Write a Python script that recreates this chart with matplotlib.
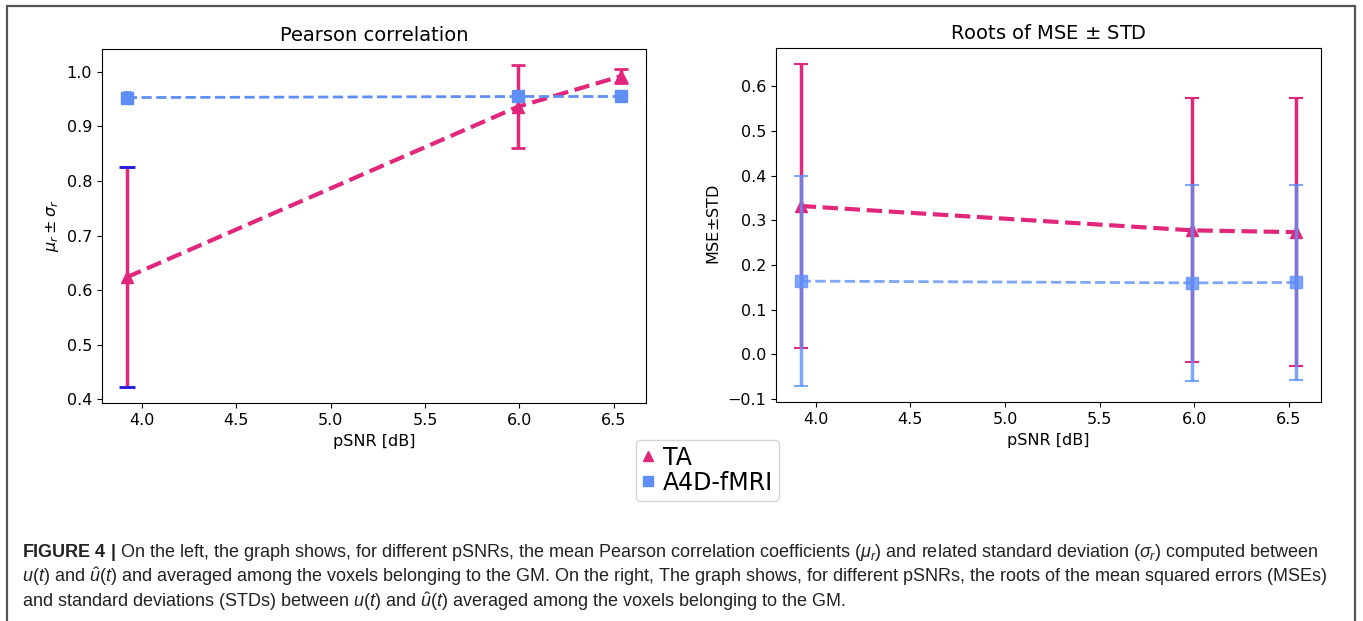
import matplotlib
matplotlib.use("Agg")
import matplotlib.pyplot as plt
from matplotlib.patches import Rectangle
from matplotlib.lines import Line2D

# pSNR values [dB]
psnr = [3.92, 5.99, 6.54]

# Pearson correlation (mean, std)
ta_r_mean = [0.6235, 0.936, 0.9925]
ta_r_std = [0.2015, 0.076, 0.0125]
a4d_r_mean = [0.953, 0.955, 0.955]
a4d_r_std = [0.010, 0.004, 0.004]

# Roots of MSE (mean, std)
ta_mse_mean = [0.332, 0.2775, 0.2735]
ta_mse_std = [0.318, 0.2955, 0.2995]
a4d_mse_mean = [0.164, 0.160, 0.161]
a4d_mse_std = [0.235, 0.220, 0.219]

pink = "#E1267B"
blue = "#5E8FF7"

plt.rcParams["mathtext.fontset"] = "custom"
plt.rcParams["mathtext.rm"] = "Liberation Sans"
plt.rcParams["mathtext.it"] = "Liberation Sans:italic"
plt.rcParams["mathtext.bf"] = "Liberation Sans:bold"

fig = plt.figure(figsize=(13.63, 6.21), dpi=100)

# frame around the whole figure
fig.patches.append(Rectangle((7 / 1363, -0.02), 1348 / 1363, 1.02 - 6 / 621,
                             transform=fig.transFigure, fill=False,
                             edgecolor="#555555", linewidth=1.6))

ax1 = fig.add_axes([0.0748, 0.3506, 0.3993, 0.570])
ax2 = fig.add_axes([0.5692, 0.3522, 0.4002, 0.571])

# -----------------------------
# Pearson correlation
# -----------------------------
ax1.errorbar(psnr, ta_r_mean, yerr=ta_r_std, color=pink, marker="^",
             markersize=8, linestyle="--", linewidth=3, elinewidth=2.5,
             capsize=5, capthick=2, zorder=2)
ta_lo = ta_r_mean[0] - ta_r_std[0]
ta_hi = ta_r_mean[0] + ta_r_std[0]
ax1.plot([psnr[0], psnr[0]], [ta_lo, ta_hi], linestyle="none", marker="_",
         markersize=12, markeredgewidth=2, color="#2020E0", zorder=3)
ax1.errorbar(psnr, a4d_r_mean, yerr=a4d_r_std, color=blue, marker="s",
             markersize=8, linestyle="--", linewidth=2, elinewidth=2.5,
             capsize=3, capthick=2, zorder=2)
ax1.set_title("Pearson correlation", fontsize=14)
ax1.set_xlabel("pSNR [dB]", fontsize=11.5)
ax1.set_ylabel(r"$\mu_r \pm \sigma_r$", fontsize=11.5,
               math_fontfamily="dejavusans")
ax1.tick_params(labelsize=11.5)

# -----------------------------
# Roots of MSE
# -----------------------------
ax2.errorbar(psnr, ta_mse_mean, yerr=ta_mse_std, color=pink, marker="^",
             markersize=8, linestyle="--", linewidth=3, elinewidth=2.5,
             capsize=5, capthick=1.5, zorder=2)
ax2.errorbar(psnr, a4d_mse_mean, yerr=a4d_mse_std, color=blue, marker="s",
             markersize=8, linestyle="--", linewidth=2, elinewidth=2.5,
             capsize=5, capthick=1.5, alpha=0.8, zorder=3)
ax2.set_title(r"Roots of MSE $\pm$ STD", fontsize=14,
              math_fontfamily="dejavusans")
ax2.set_xlabel("pSNR [dB]", fontsize=11.5)
ax2.set_ylabel(r"MSE$\pm$STD", fontsize=11.5, math_fontfamily="dejavusans")
ax2.tick_params(labelsize=11.5)

handles = [
    Line2D([], [], color=pink, marker="^", linestyle="none", markersize=7),
    Line2D([], [], color=blue, marker="s", linestyle="none", markersize=7),
]
fig.legend(handles, ["TA", "A4D-fMRI"], loc="center",
           bbox_to_anchor=(0.519, 0.243), handlelength=0.5,
           handletextpad=0.4, borderpad=0.25, labelspacing=0.05,
           prop={"family": "DejaVu Sans", "size": 17})

# -----------------------------
# Caption
# -----------------------------
cap_lines = [
    r"$\mathbf{FIGURE\ 4\ |}$ On the left, the graph shows, for different pSNRs, "
    r"the mean Pearson correlation coefficients ($\mu_r$) and related standard "
    r"deviation ($\sigma_r$) computed between",
    r"$u(t)$ and $\hat{u}(t)$ and averaged among the voxels belonging to the GM. "
    r"On the right, The graph shows, for different pSNRs, the roots of the mean "
    r"squared errors (MSEs)",
    r"and standard deviations (STDs) between $u(t)$ and $\hat{u}(t)$ averaged "
    r"among the voxels belonging to the GM.",
]
for i, line in enumerate(cap_lines):
    fig.text(22 / 1363, 1 - (557 + 25 * i) / 621, line, fontsize=13,
             family="Liberation Sans", color="#222222", va="baseline")

fig.savefig("out.png", dpi=100)
